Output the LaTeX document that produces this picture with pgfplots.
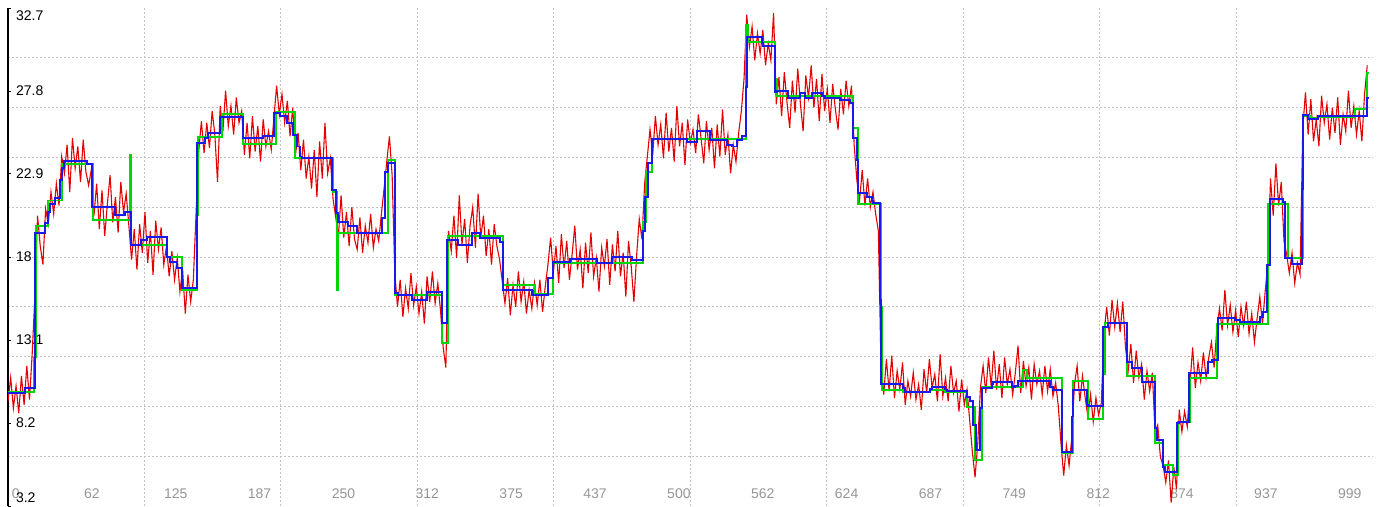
\documentclass[border=0pt]{standalone}
\usepackage{pgfplots}
\pgfplotsset{compat=1.18}
\usepackage{fontspec}
\setmainfont{Liberation Sans}
\definecolor{cred}{RGB}{228,0,0}
\definecolor{cgreen}{RGB}{0,214,0}
\definecolor{cblue}{RGB}{25,25,235}
\definecolor{cgrid}{RGB}{195,195,195}
\definecolor{clab}{RGB}{150,150,150}
\begin{document}
\begin{tikzpicture}
\begin{axis}[
  scale only axis, width=682.3pt, height=249pt,
  xmin=0, xmax=1016, ymin=3.2, ymax=32.7,
  axis lines*=left,
  x axis line style={draw=none},
  y axis line style={black, line width=0.75pt, -},
  xtick={0,62.44,124.875,187.31,249.75,312.19,374.625,437.06,499.5,561.94,624.375,686.81,749.25,811.69,874.125,936.56,999},
  xticklabels={\makebox[0pt][l]{\hspace{2pt}0},62,125,187,250,312,375,437,500,562,624,687,749,812,874,937,999},
  ytick={3.2,8.117,13.033,17.95,22.867,27.783,32.7},
  yticklabels={\raisebox{4pt}[\height][\depth]{3.2},8.2,13.1,18,22.9,27.8,\raisebox{-4pt}[\height][\depth]{32.7}},
  minor xtick={101.6,203.2,304.8,406.4,508,609.6,711.2,812.8,914.4},
  minor ytick={6.15,9.1,12.05,15.0,17.95,20.9,23.85,26.8,29.75},
  xminorgrids=true, yminorgrids=true, xmajorgrids=false, ymajorgrids=false,
  minor grid style={cgrid, line width=0.5pt, dash pattern=on 1pt off 1pt},
  minor tick length=0pt,
  x tick style={draw=none},
  y tick style={black, line width=0.5pt},
  major tick length=1.5pt, tick align=inside,
  /pgf/number format/assume math mode=true,
  xticklabel style={anchor=south, text=clab, font=\fontsize{7}{8}\selectfont},
  yticklabel style={anchor=west, text=black, font=\fontsize{7}{8}\selectfont, xshift=0.5pt},
  clip=true,
]
% noisy measurement (red)
\addplot[cred, line width=0.55pt] coordinates {
(0,9.4)(2,10.8)(4,9.0)(6,10.3)(8,8.7)(10,10.9)(12,9.2)(14,11.5)(16,9.5)(18,12.2)
(20,15.6)(22,20.4)(24,18.6)(26,17.5)(28,20.8)(30,19.9)(32,21.8)(34,20.5)(36,22.3)(38,21.0)
(40,23.9)(42,22.9)(44,24.6)(46,21.8)(48,25.0)(50,23.2)(52,24.5)(54,22.4)(56,24.9)(58,23.0)
(60,22.2)(62,23.1)(64,20.4)(66,22.3)(68,19.6)(70,21.9)(72,19.2)(74,21.1)(76,22.8)(78,20.0)
(80,21.5)(82,19.4)(84,22.4)(86,20.6)(88,21.7)(90,19.8)(92,17.8)(94,19.6)(96,17.2)(98,19.9)
(100,18.2)(102,20.6)(104,17.6)(106,19.5)(108,16.9)(110,20.1)(112,18.4)(114,19.7)(116,17.5)(118,18.6)
(120,16.8)(122,18.3)(124,16.6)(126,17.9)(128,15.9)(130,17.2)(132,14.6)(134,16.9)(136,15.3)(138,16.6)
(140,20.5)(142,24.2)(144,26.0)(146,24.1)(148,25.9)(150,24.4)(152,26.6)(154,25.2)(156,22.4)(158,26.9)
(160,25.4)(162,27.8)(164,25.7)(166,26.9)(168,25.2)(170,27.4)(172,25.9)(174,26.6)(176,24.0)(178,25.9)
(180,23.8)(182,26.3)(184,24.2)(186,25.7)(188,23.6)(190,26.1)(192,24.5)(194,25.4)(196,24.3)(198,26.2)
(200,28.1)(202,26.4)(204,27.6)(206,25.9)(208,27.2)(210,25.1)(212,26.8)(214,24.0)(216,25.3)(218,23.1)
(220,24.9)(222,22.6)(224,23.9)(226,22.0)(228,24.3)(230,21.5)(232,24.8)(234,22.6)(236,25.9)(238,22.9)
(240,23.8)(242,21.4)(244,20.3)(246,19.2)(248,21.6)(250,19.1)(252,20.6)(254,18.6)(256,20.9)(258,19.0)
(260,18.4)(262,20.3)(264,18.2)(266,19.8)(268,18.8)(270,20.5)(272,18.5)(274,19.6)(276,18.9)(278,20.5)
(280,22.0)(282,23.6)(284,25.1)(286,22.8)(288,17.0)(290,15.0)(292,16.6)(294,14.4)(296,16.1)(298,14.9)
(300,17.0)(302,15.1)(304,16.2)(306,14.6)(308,15.9)(310,14.0)(312,16.8)(314,15.3)(316,17.1)(318,15.2)
(320,16.4)(322,14.8)(324,12.6)(326,11.4)(328,19.5)(330,18.3)(332,20.4)(334,17.9)(336,21.6)(338,18.7)
(340,20.2)(342,17.6)(344,19.8)(346,20.9)(348,18.5)(350,21.7)(352,19.1)(354,20.4)(356,18.0)(358,19.6)
(360,17.5)(362,19.9)(364,18.6)(366,17.8)(368,16.5)(370,15.2)(372,16.7)(374,14.5)(376,16.3)(378,15.0)
(380,17.1)(382,15.3)(384,16.5)(386,14.6)(388,16.0)(390,14.9)(392,16.4)(394,15.1)(396,16.6)(398,14.7)
(400,16.2)(402,17.5)(404,19.1)(406,17.0)(408,18.6)(410,16.4)(412,19.3)(414,17.3)(416,18.9)(418,16.6)
(420,18.1)(422,19.8)(424,17.2)(426,18.4)(428,16.1)(430,18.8)(432,17.0)(434,19.4)(436,16.8)(438,17.9)
(440,15.9)(442,18.5)(444,17.4)(446,19.0)(448,16.3)(450,18.7)(452,17.1)(454,19.5)(456,16.8)(458,18.2)
(460,15.6)(462,18.9)(464,17.4)(466,15.3)(468,18.0)(470,20.2)(472,19.0)(474,22.3)(476,23.9)(478,25.5)
(480,24.0)(482,26.3)(484,24.6)(486,25.8)(488,23.8)(490,26.5)(492,24.2)(494,25.6)(496,23.6)(498,26.9)
(500,24.5)(502,25.9)(504,23.4)(506,26.1)(508,24.7)(510,25.5)(512,24.1)(514,26.4)(516,25.0)(518,23.5)
(520,26.0)(522,24.3)(524,25.6)(526,23.2)(528,25.8)(530,23.9)(532,26.7)(534,24.0)(536,25.2)(538,22.9)
(540,24.6)(542,23.6)(544,25.3)(546,26.6)(548,28.5)(550,32.3)(552,30.4)(554,31.6)(556,29.6)(558,31.2)
(560,30.0)(562,31.4)(564,29.3)(566,30.6)(568,29.6)(570,32.4)(572,27.0)(574,28.6)(576,26.3)(578,28.9)
(580,27.1)(582,25.6)(584,28.4)(586,26.5)(588,29.1)(590,27.0)(592,25.4)(594,28.7)(596,27.4)(598,29.3)
(600,26.8)(602,28.5)(604,26.0)(606,28.8)(608,26.6)(610,27.9)(612,25.9)(614,28.2)(616,26.7)(618,25.5)
(620,27.9)(622,26.4)(624,28.4)(626,26.9)(628,28.1)(630,24.6)(632,22.5)(634,21.3)(636,23.1)(638,21.0)
(640,22.6)(642,20.9)(644,21.8)(646,20.5)(648,19.5)(650,11.4)(652,9.8)(654,11.9)(656,10.0)(658,12.1)
(660,9.6)(662,11.2)(664,10.1)(666,11.7)(668,9.2)(670,10.6)(672,9.7)(674,11.1)(676,9.5)(678,10.4)
(680,8.9)(682,11.3)(684,9.9)(686,11.9)(688,10.2)(690,11.0)(692,9.4)(694,12.2)(696,9.7)(698,10.8)
(700,9.4)(702,11.5)(704,9.9)(706,10.6)(708,8.8)(710,10.7)(712,9.2)(714,10.1)(716,8.3)(718,6.4)
(720,4.9)(722,6.9)(724,10.2)(726,11.5)(728,9.9)(730,12.0)(732,10.3)(734,12.4)(736,10.1)(738,11.6)
(740,9.6)(742,12.0)(744,10.4)(746,11.3)(748,9.8)(750,11.1)(752,12.7)(754,9.9)(756,11.8)(758,10.3)
(760,11.4)(762,9.5)(764,11.6)(766,10.4)(768,11.2)(770,9.8)(772,11.5)(774,10.0)(776,11.3)(778,9.7)
(780,10.5)(782,9.1)(784,6.9)(786,5.0)(788,6.8)(790,5.6)(792,7.2)(794,10.4)(796,11.5)(798,9.4)
(800,10.9)(802,9.6)(804,8.5)(806,9.8)(808,8.2)(810,9.6)(812,8.6)(814,9.3)(816,13.4)(818,15.0)
(820,13.3)(822,15.4)(824,13.8)(826,15.2)(828,13.5)(830,15.3)(832,12.6)(834,11.2)(836,12.8)(838,10.5)
(840,12.4)(842,10.8)(844,11.6)(846,9.5)(848,11.2)(850,10.0)(852,11.1)(854,7.6)(856,8.0)(858,6.1)
(860,5.6)(862,4.6)(864,5.9)(866,3.4)(868,5.5)(870,4.2)(872,8.9)(874,7.6)(876,8.8)(878,7.9)
(880,10.4)(882,12.6)(884,10.2)(886,11.7)(888,10.6)(890,12.3)(892,10.8)(894,12.0)(896,12.9)(898,11.4)
(900,13.7)(902,14.9)(904,13.6)(906,16.0)(908,13.9)(910,15.1)(912,13.5)(914,14.8)(916,13.2)(918,15.0)
(920,13.9)(922,15.3)(924,13.4)(926,14.6)(928,12.9)(930,14.3)(932,15.6)(934,14.0)(936,15.9)(938,17.6)
(940,22.6)(942,20.4)(944,23.5)(946,21.0)(948,22.4)(950,18.9)(952,18.1)(954,17.0)(956,18.2)(958,16.4)
(960,17.6)(962,16.9)(964,25.6)(966,27.7)(968,25.2)(970,27.3)(972,24.8)(974,26.1)(976,24.5)(978,27.5)
(980,25.9)(982,27.0)(984,24.9)(986,26.8)(988,25.3)(990,27.4)(992,24.6)(994,26.4)(996,25.4)(998,27.8)
(1000,25.6)(1002,26.9)(1004,25.2)(1006,26.6)(1008,24.8)(1010,27.6)(1012,29.3)
};
% green step series
\addplot[cgreen, line width=0.9pt, const plot] coordinates {
(0,9.95)(19.4,12.0)(20.8,19.79)(29.5,21.3)(40.2,23.46)(63.3,20.14)(90.8,24.0)(92.0,18.66)
(118.4,17.95)(129.5,16.0)(140.7,20.44)(141.4,25.06)(159.3,26.4)(174.9,24.64)(199.5,26.54)
(213.7,23.8)(242.0,21.8)(245.0,16.0)(245.7,19.37)(282.9,23.7)(288.1,15.7)(323.1,12.85)
(327.5,19.2)(368.5,16.3)(392.3,15.76)(405.7,17.6)(472.7,20.0)(475,23.0)(479.4,24.94)
(549.4,31.7)(550.9,30.7)(571.0,28.5)(572.4,27.5)(629.0,25.6)(632.7,21.1)(649.9,15)
(650.6,10.07)(666.2,9.95)(686.3,10.07)(697.5,9.95)(713.9,9.06)(719.8,5.92)(725.1,10.25)
(755.6,11.25)(758.6,10.78)(784.6,6.34)(792.8,10.6)(804.0,8.35)(815.1,11)(816.6,14.04)
(833.0,10.9)(853.8,6.93)(859.8,5.63)(867.2,5.04)(871.0,8.17)(879.9,10.78)(900.0,13.98)
(938.0,21.09)(952.8,17.89)(964.0,26.3)(969.2,26.18)(975.2,26.24)(1002.7,26.7)(1011.6,28.85)(1013,28.85)
};
% blue step series
\addplot[cblue, line width=0.9pt, const plot] coordinates {
(0,9.89)(12.7,10.19)(20.1,19.37)(27.5,19.96)(29.8,20.6)(31.3,21.09)(35.0,21.44)(38.7,22.5)
(40.2,23.2)(41.7,23.64)(58.8,23.46)(62.5,20.91)(79.7,20.44)(87.1,20.6)(91.6,18.66)(99.0,18.96)
(103.5,19.13)(118.4,17.95)(120.6,17.65)(125.8,17.3)(129.5,16.1)(140.7,24.7)(146.6,25.0)
(148.9,25.3)(157.8,26.24)(174.9,25.0)(189.8,25.12)(198.0,26.5)(202.5,26.3)(207.7,25.9)
(212.2,25.2)(215.1,24.5)(217.4,23.9)(218.9,23.8)(241.2,21.9)(244.2,20.56)(245.7,20.0)
(253.1,19.79)(259.8,19.37)(278.4,20.26)(280.6,23.0)(282.9,23.5)(288.1,15.82)(290.3,15.7)
(300.7,15.4)(311.9,15.9)(323.1,14.04)(326.8,18.96)(335.0,18.66)(345.4,19.37)(351.4,19.07)
(366.2,18.86)(368.5,16.0)(390.1,15.7)(402.0,16.7)(405.7,17.65)(418.4,17.83)(438.5,17.6)
(449.6,17.95)(464.5,17.77)(472.7,19.5)(474.5,21.5)(476.5,23.5)(479.4,24.94)(505.5,24.76)
(512.9,25.4)(522.6,24.88)(535.2,24.58)(539.0,24.5)(542.7,24.88)(546.4,25.1)(549.4,28.0)
(550.1,30.98)(561.3,30.63)(562.0,30.45)(571.0,27.72)(572.4,27.78)(580.6,27.37)(589.6,27.66)
(593.3,27.37)(598.5,27.66)(605.9,27.5)(608.2,27.37)(619.3,27.25)(626.8,27.07)(629.0,25.0)
(632.0,23.7)(632.7,21.74)(639.4,21.5)(643.2,21.3)(644,21.13)(649.1,15.4)(649.9,10.43)
(666.2,10.19)(667.7,9.93)(686.3,10.15)(687.8,10.25)(697.5,10.1)(699.0,10.01)(713.9,9.66)
(716.1,9.42)(718.4,8.0)(720.5,6.52)(723.6,9.0)(725.1,10.19)(732.5,10.45)(733.3,10.54)
(747.4,10.25)(749.6,10.3)(751.9,10.6)(775.7,10.25)(777.9,10.07)(784.6,6.4)(792.0,8.5)
(792.8,10.07)(803.2,9.18)(804.0,9.12)(815.1,13.8)(818.8,14.04)(833.0,11.73)(836.7,11.38)
(844.2,10.54)(853.8,7.8)(855.3,7.1)(859.8,5.5)(861.3,5.2)(870.2,8.1)(871.7,8.17)(879.1,11.08)
(893.3,11.73)(896.3,11.85)(900.7,14.34)(913.4,14.2)(917.1,14.1)(932.0,14.4)(934.2,14.7)
(937.2,17.5)(939.4,21.39)(949.1,21.2)(950.6,17.9)(955.8,17.53)(963.2,22)(964.0,26.36)
(967.7,26.12)(975.2,26.3)(1011.6,27.37)(1013,27.37)
};
\end{axis}
\pgfresetboundingbox
\path ([xshift=-4pt]current axis.south west) rectangle ([xshift=2.7pt,yshift=4pt]current axis.north east);
\end{tikzpicture}
\end{document}
